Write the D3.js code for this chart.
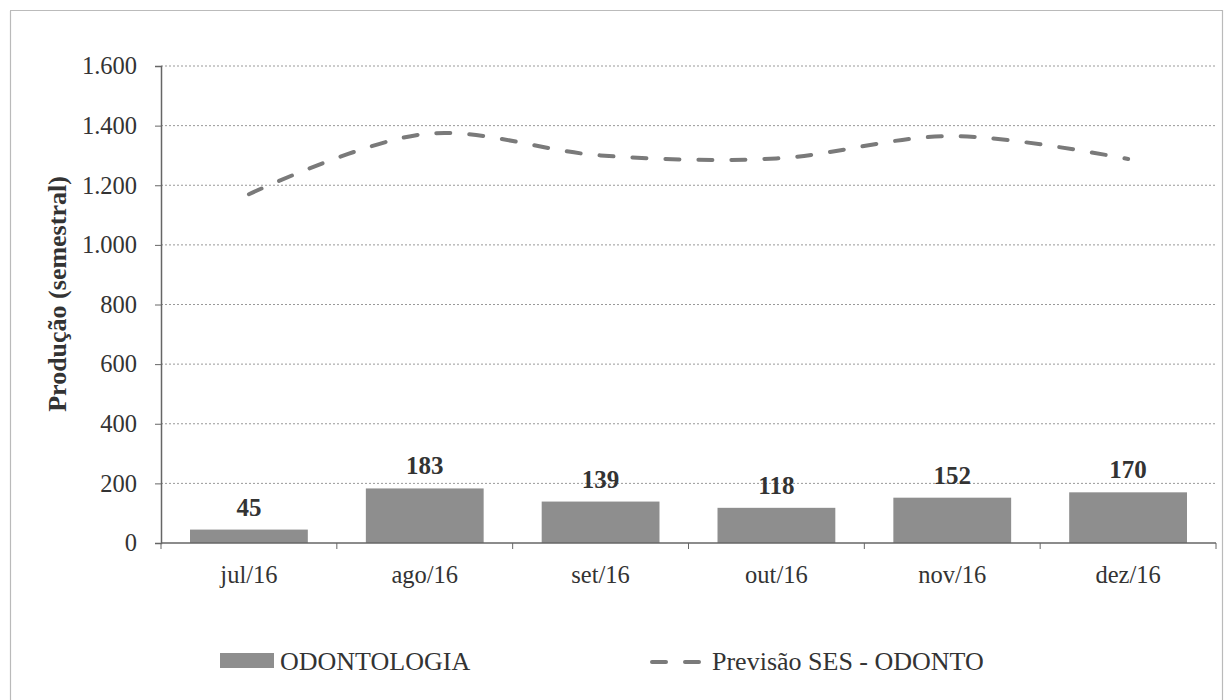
<!DOCTYPE html>
<html>
<head>
<meta charset="utf-8">
<script src="https://cdn.jsdelivr.net/npm/d3@7"></script>
<style>
  body { margin: 0; background: #fff; }
</style>
</head>
<body>
<div id="chart"></div>
<script>
'use strict';
var months = ['jul/16', 'ago/16', 'set/16', 'out/16', 'nov/16', 'dez/16'];
var odontologia = [45, 183, 139, 118, 152, 170];
var previsao = [1170, 1372, 1300, 1290, 1365, 1288];
var yTicks = [0, 200, 400, 600, 800, 1000, 1200, 1400, 1600];
var seriesNames = ['ODONTOLOGIA', 'Previsão SES - ODONTO'];

var serif = "'Liberation Serif', 'Times New Roman', Tinos, 'DejaVu Serif', serif";
var width = 1224, height = 700;
var margin = {top: 66, right: 8, bottom: 157, left: 161};
var innerW = width - margin.left - margin.right;
var innerH = height - margin.top - margin.bottom;

var svg = d3.select('#chart').append('svg')
  .attr('width', width)
  .attr('height', height);

// dotted frame round the whole chart
svg.append('rect')
  .attr('x', 10.5).attr('y', 10.5)
  .attr('width', 1212).attr('height', 700)
  .attr('fill', 'none')
  .attr('stroke', '#777')
  .attr('stroke-width', 1.2)
  .attr('stroke-dasharray', '1,1');

var g = svg.append('g').attr('transform', 'translate(' + margin.left + ',' + margin.top + ')');

var x = d3.scaleBand().domain(months).range([0, innerW]).paddingInner(0.33).paddingOuter(0.165);
var xEdges = d3.scaleBand().domain(months).range([0, innerW]);
var y = d3.scaleLinear().domain([0, 1600]).range([innerH, 0]);

var fmt = function(v) { return d3.format(',')(v).replace(/,/g, '.'); };

// gridlines
g.append('g').selectAll('line')
  .data(yTicks.filter(function(d) { return d > 0; }))
  .enter().append('line')
  .attr('x1', 0).attr('x2', innerW)
  .attr('y1', function(d) { return y(d); })
  .attr('y2', function(d) { return y(d); })
  .attr('stroke', '#999')
  .attr('stroke-width', 1)
  .attr('stroke-dasharray', '2,2');

// y axis
var yAxis = g.append('g')
  .call(d3.axisLeft(y).tickValues(yTicks).tickSize(6).tickPadding(18).tickFormat(fmt));
yAxis.attr('font-family', null);
yAxis.select('.domain').attr('stroke', '#666').attr('stroke-width', 1.5);
yAxis.selectAll('.tick line').attr('stroke', '#666');
yAxis.selectAll('text')
  .style('font-family', serif)
  .style('font-size', '24.5px')
  .attr('fill', '#333');

// bars
g.append('g').selectAll('rect')
  .data(odontologia)
  .enter().append('rect')
  .attr('x', function(d, i) { return x(months[i]); })
  .attr('width', x.bandwidth())
  .attr('y', function(d) { return y(d); })
  .attr('height', function(d) { return innerH - y(d); })
  .attr('fill', '#8e8e8e');

// value labels
g.append('g').selectAll('text')
  .data(odontologia)
  .enter().append('text')
  .attr('x', function(d, i) { return x(months[i]) + x.bandwidth() / 2; })
  .attr('y', function(d) { return y(d) - 14; })
  .attr('text-anchor', 'middle')
  .attr('fill', '#333')
  .style('font-family', serif)
  .style('font-size', '25px')
  .style('font-weight', 'bold')
  .text(function(d) { return d; });

// x axis
g.append('line')
  .attr('x1', 0).attr('x2', innerW)
  .attr('y1', innerH).attr('y2', innerH)
  .attr('stroke', '#666').attr('stroke-width', 1.5);
g.append('g').selectAll('line')
  .data(months.concat(['end']))
  .enter().append('line')
  .attr('x1', function(d, i) { return i < months.length ? xEdges(d) : innerW; })
  .attr('x2', function(d, i) { return i < months.length ? xEdges(d) : innerW; })
  .attr('y1', innerH).attr('y2', innerH + 6)
  .attr('stroke', '#666');
g.append('g').selectAll('text')
  .data(months)
  .enter().append('text')
  .attr('x', function(d) { return x(d) + x.bandwidth() / 2; })
  .attr('y', innerH + 40)
  .attr('text-anchor', 'middle')
  .attr('fill', '#333')
  .style('font-family', serif)
  .style('font-size', '24.5px')
  .text(function(d) { return d; });

// smoothed dashed forecast line
var line = d3.line()
  .x(function(d, i) { return x(months[i]) + x.bandwidth() / 2; })
  .y(function(d) { return y(d); })
  .curve(d3.curveCatmullRom.alpha(0.5));
g.append('path')
  .datum(previsao)
  .attr('d', line)
  .attr('fill', 'none')
  .attr('stroke', '#7a7a7a')
  .attr('stroke-width', 4)
  .attr('stroke-linecap', 'round')
  .attr('stroke-dasharray', '14,19');

// y axis title
svg.append('text')
  .attr('transform', 'translate(66,294) rotate(-90)')
  .attr('text-anchor', 'middle')
  .attr('fill', '#333')
  .style('font-family', serif)
  .style('font-size', '26px')
  .style('font-weight', 'bold')
  .text('Produção (semestral)');

// legend
var legend = svg.append('g');
legend.append('rect')
  .attr('x', 220).attr('y', 653)
  .attr('width', 54).attr('height', 15)
  .attr('fill', '#8e8e8e');
legend.append('text')
  .attr('x', 280).attr('y', 670)
  .attr('fill', '#333')
  .style('font-family', serif)
  .style('font-size', '26px')
  .text(seriesNames[0]);
legend.append('line')
  .attr('x1', 652).attr('x2', 704)
  .attr('y1', 662).attr('y2', 662)
  .attr('stroke', '#7a7a7a')
  .attr('stroke-width', 4)
  .attr('stroke-linecap', 'round')
  .attr('stroke-dasharray', '14,19');
legend.append('text')
  .attr('x', 712).attr('y', 670)
  .attr('fill', '#333')
  .style('font-family', serif)
  .style('font-size', '26px')
  .text(seriesNames[1]);
</script>
</body>
</html>
